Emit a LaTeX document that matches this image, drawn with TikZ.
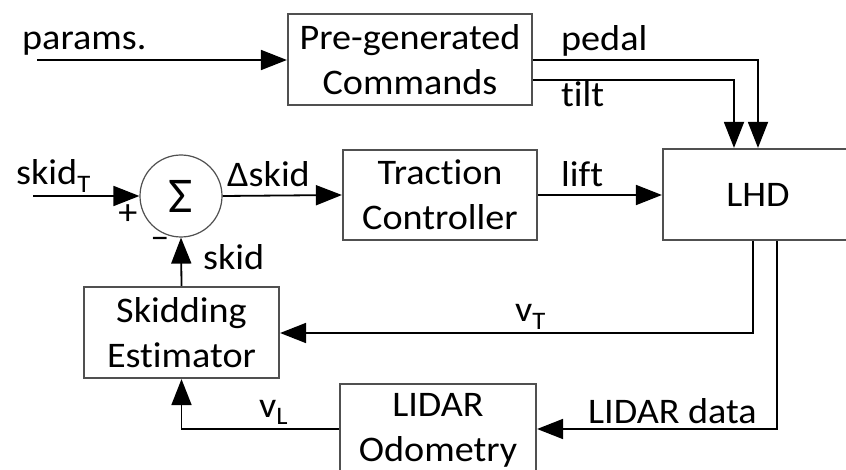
\documentclass[tikz,border=0pt]{standalone}
\usepackage{fontspec}
\setmainfont{Carlito}[FakeStretch=1.06, Ligatures={NoCommon,NoContextual}]
\usetikzlibrary{arrows.meta}
\definecolor{boxgray}{RGB}{80,80,80}
\begin{document}
\begin{tikzpicture}[x=1pt,y=-1pt,
  font=\fontsize{36}{45}\selectfont,
  blk/.style={draw=boxgray, line width=2.2pt, fill=white, align=center, inner sep=0pt},
  sig/.style={draw=black, line width=1.8pt, -{Triangle[length=26pt,width=20pt]}},
  lbl/.style={anchor=base west, inner sep=0pt}]
\useasboundingbox (0,0) rectangle (846,470);
\clip (0,0) rectangle (846,470);
\fill[white] (0,0) rectangle (846,470);
% blocks
\node[blk, minimum width=244pt, minimum height=91pt] (pre) at (410,59.5) {Pre-generated\\Commands};
\node[blk, minimum width=194pt, minimum height=90pt] (trac) at (440,195) {Traction\\Controller};
\node[blk, minimum width=190pt, minimum height=91pt] (lhd) at (758,194.5) {LHD};
\node[circle, draw=boxgray, line width=1.2pt, minimum size=82pt, inner sep=0pt, font=\fontsize{50}{50}\selectfont] (sum) at (181,196) {Σ};
\node[blk, minimum width=195pt, minimum height=91pt] (est) at (181.5,332.5) {Skidding\\Estimator};
\node[blk, minimum width=196pt, minimum height=92pt] (odo) at (438,430) {LIDAR\\Odometry};
% free ends and corners
\coordinate (pin) at (37,60);
\coordinate (pedalc) at (758,60);
\coordinate (tiltc) at (734,80);
\coordinate (skin) at (33,196);
\coordinate (vtc) at (753,333);
\coordinate (ldc) at (777,429);
\coordinate (vlc) at (181.5,429);
% connectors
\draw[sig] (pin) -- (pin -| pre.west);
\draw[sig] (pre.east |- pedalc) -- (pedalc) -- (pedalc |- lhd.north);
\draw[sig] (pre.east |- tiltc) -- (tiltc) -- (tiltc |- lhd.north);
\draw[sig] (skin) -- (sum.west);
\draw[sig] (sum.east) -- (trac.west);
\draw[sig] (trac.east) -- (trac.east -| lhd.west);
\draw[sig] (est.north) -- (sum.south);
\draw[sig] (vtc |- lhd.south) -- (vtc) -- (vtc -| est.east);
\draw[sig] (ldc |- lhd.south) -- (ldc) -- (ldc -| odo.east);
\draw[sig] (odo.west |- vlc) -- (vlc) -- (est.south);
% labels
\node[lbl] (tparams) at (22,50) {params.};
\node[lbl] (tpedal) at (561,51) {pedal};
\node[lbl] (ttilt) at (561,107) {tilt};
\node[lbl] (tskidT) at (16,185) {skid\textsubscript{T}};
\node[lbl] (tdskid) at (227,187) {Δskid};
\node[lbl] (tlift) at (561,187) {lift};
\node[inner sep=0pt] (tplus) at (128,215) {+};
\node[inner sep=0pt] (tminus) at (160,243) {–};
\node[lbl] (tskid) at (203,270) {skid};
\node[lbl] (tvT) at (515,322) {v\textsubscript{T}};
\node[lbl] (tvL) at (259,417) {v\textsubscript{L}};
\node[lbl] (tlidar) at (588,423) {LIDAR data};
\end{tikzpicture}
\end{document}
